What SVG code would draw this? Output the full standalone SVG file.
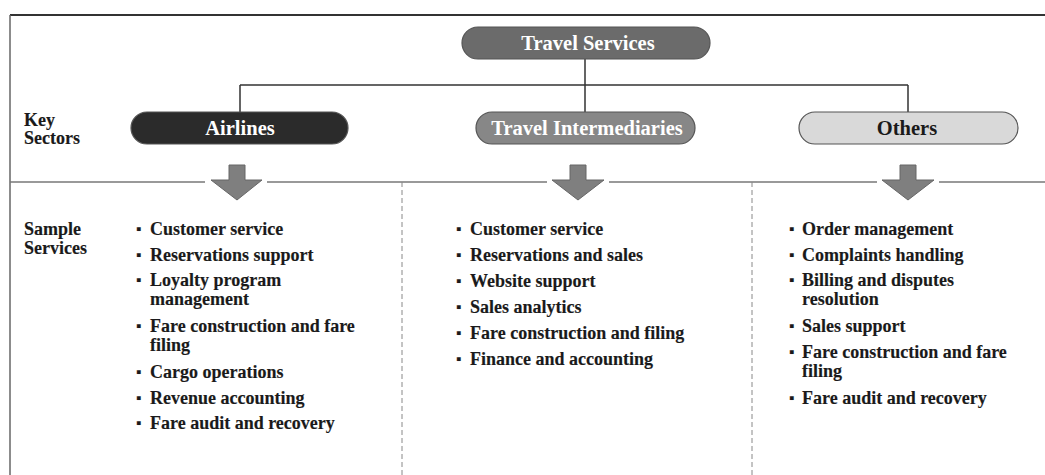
<svg xmlns="http://www.w3.org/2000/svg" width="1045" height="475" viewBox="0 0 1045 475">
<style>
text{font-family:"Liberation Serif","Times New Roman",serif;font-weight:bold;font-size:18px;fill:#1a1a1a;stroke:#1a1a1a;stroke-width:0.15}
.b{font-size:15px}
.pt{text-anchor:middle;fill:#fff;stroke:none;font-size:20.5px}
.pill{stroke:#555;stroke-width:1.2}
.conn{stroke:#333;stroke-width:1.5;fill:none}
.arrow{fill:#7f7f7f;stroke:#666;stroke-width:1}
.dash{stroke:#888;stroke-width:1;stroke-dasharray:5,3}
.sep{stroke:#777;stroke-width:1.5}
</style>
<rect width="1045" height="475" fill="#fff"/>
<g id="frame">
<line x1="10" y1="15" x2="1045" y2="15" stroke="#333" stroke-width="2"/>
<line x1="10" y1="15" x2="10" y2="475" stroke="#666" stroke-width="1.5"/>
<line class="sep" x1="10" y1="182" x2="205" y2="182"/>
<line class="sep" x1="267" y1="182" x2="547" y2="182"/>
<line class="sep" x1="609" y1="182" x2="877" y2="182"/>
<line class="sep" x1="939" y1="182" x2="1045" y2="182"/>
<line class="dash" x1="402" y1="182" x2="402" y2="475"/>
<line class="dash" x1="752" y1="182" x2="752" y2="475"/>
</g>
<g id="connectors">
<path class="conn" d="M585 59 V112 M240 85 H908 M240 85 V112 M908 85 V112"/>
<path class="arrow" d="M229 165 H245 V180 H262 L237 200 L211 180 H229 Z"/>
<path class="arrow" d="M570 165 H586 V180 H604 L578 200 L552 180 H570 Z"/>
<path class="arrow" d="M900 165 H916 V180 H934 L908 200 L882 180 H900 Z"/>
</g>
<g id="travel-services">
<rect class="pill" x="462" y="27" width="248" height="32" rx="16" fill="#6b6b6b"/>
<text class="pt" x="588" y="50">Travel Services</text>
</g>
<g id="key-sectors-label">
<text x="24" y="126">Key</text>
<text x="24" y="144">Sectors</text>
</g>
<g id="airlines">
<rect class="pill" x="131" y="112" width="217" height="32" rx="16" fill="#2b2b2b"/>
<text class="pt" x="240" y="135">Airlines</text>
</g>
<g id="travel-intermediaries">
<rect class="pill" x="476" y="112" width="219" height="32" rx="16" fill="#878787"/>
<text class="pt" x="587" y="135">Travel Intermediaries</text>
</g>
<g id="others">
<rect class="pill" x="799" y="112" width="219" height="32" rx="16" fill="#d9d9d9" stroke="#777"/>
<text class="pt" x="907" y="135" style="fill:#1a1a1a">Others</text>
</g>
<g id="sample-services-label">
<text x="24" y="235">Sample</text>
<text x="24" y="254">Services</text>
</g>
<g id="airlines-services">
<text class="b" x="136" y="234">▪</text><text x="150" y="235">Customer service</text>
<text class="b" x="136" y="260">▪</text><text x="150" y="261">Reservations support</text>
<text class="b" x="136" y="285">▪</text><text x="150" y="286">Loyalty program</text>
<text x="150" y="305">management</text>
<text class="b" x="136" y="331">▪</text><text x="150" y="332">Fare construction and fare</text>
<text x="150" y="351">filing</text>
<text class="b" x="136" y="377">▪</text><text x="150" y="378">Cargo operations</text>
<text class="b" x="136" y="403">▪</text><text x="150" y="404">Revenue accounting</text>
<text class="b" x="136" y="428">▪</text><text x="150" y="429">Fare audit and recovery</text>
</g>
<g id="intermediaries-services">
<text class="b" x="456" y="234">▪</text><text x="470" y="235">Customer service</text>
<text class="b" x="456" y="260">▪</text><text x="470" y="261">Reservations and sales</text>
<text class="b" x="456" y="286">▪</text><text x="470" y="287">Website support</text>
<text class="b" x="456" y="312">▪</text><text x="470" y="313">Sales analytics</text>
<text class="b" x="456" y="338">▪</text><text x="470" y="339">Fare construction and filing</text>
<text class="b" x="456" y="364">▪</text><text x="470" y="365">Finance and accounting</text>
</g>
<g id="others-services">
<text class="b" x="789" y="234">▪</text><text x="802" y="235">Order management</text>
<text class="b" x="789" y="260">▪</text><text x="802" y="261">Complaints handling</text>
<text class="b" x="789" y="285">▪</text><text x="802" y="286">Billing and disputes</text>
<text x="802" y="305">resolution</text>
<text class="b" x="789" y="331">▪</text><text x="802" y="332">Sales support</text>
<text class="b" x="789" y="357">▪</text><text x="802" y="358">Fare construction and fare</text>
<text x="802" y="377">filing</text>
<text class="b" x="789" y="403">▪</text><text x="802" y="404">Fare audit and recovery</text>
</g>
</svg>
